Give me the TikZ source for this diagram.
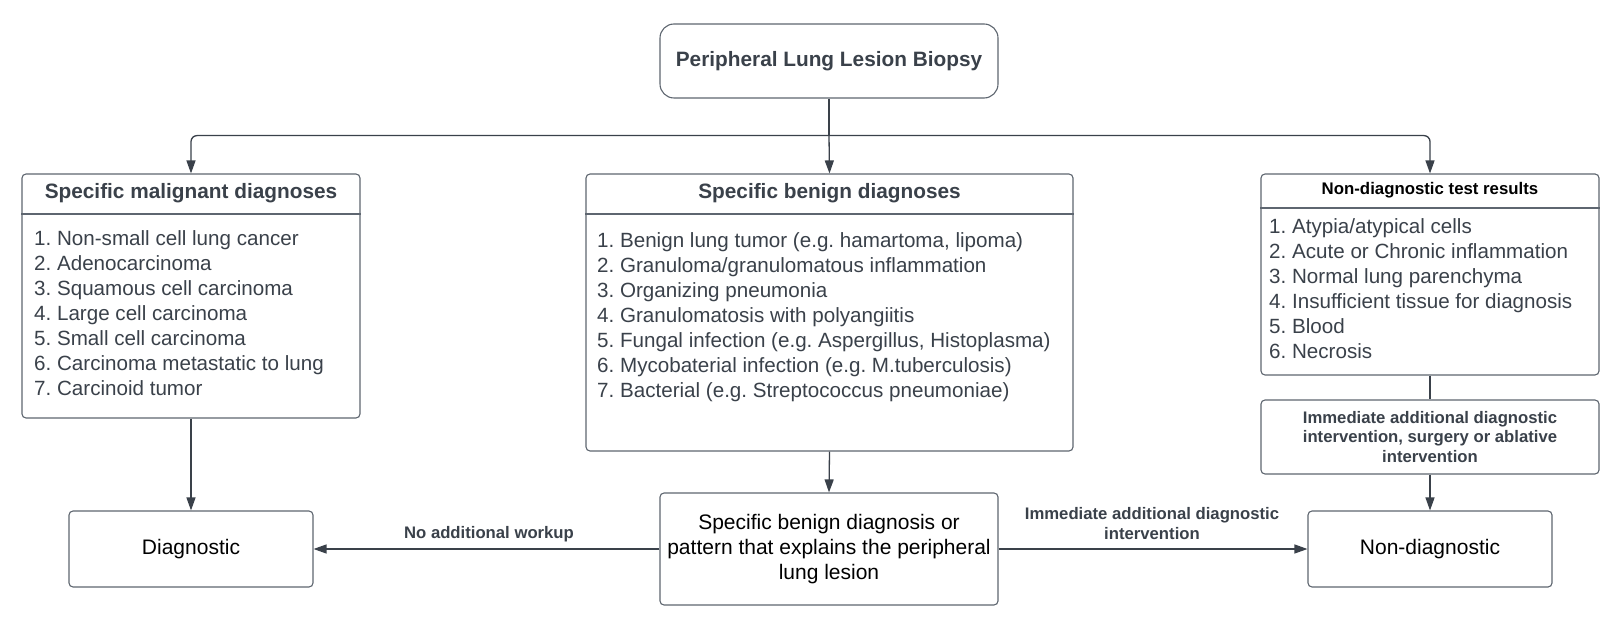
\documentclass[tikz,border=0pt]{standalone}
\usepackage{fontspec}
\setmainfont{Liberation Sans}
\usetikzlibrary{arrows.meta,calc}
\definecolor{txt}{HTML}{3A414A}
\definecolor{ln}{HTML}{5E6670}
\definecolor{arrc}{HTML}{3A414A}
\frenchspacing
\begin{document}
\begin{tikzpicture}[x=1pt,y=-1pt,
  box/.style={draw=ln, line width=1.1pt, rounded corners=4pt, inner sep=0pt, align=center},
  conn/.style={draw=arrc, line width=1.3pt},
  arr/.style={conn, -{Triangle[length=13pt,width=9pt]}},
  big/.style={font=\fontsize{21}{25}\selectfont},
  bigb/.style={font=\fontsize{20.8}{25}\selectfont\bfseries, text=txt},
  small/.style={font=\fontsize{16.7}{19.7}\selectfont\bfseries, text=txt},
  listtxt/.style={font=\fontsize{20.6}{24.9}\selectfont, text=txt, align=left, inner sep=0pt, anchor=west}
]
\useasboundingbox (0,0) rectangle (1623,620);
\fill[white] (0,0) rectangle (1623,620);

% boxes
\node[box, rounded corners=14pt, minimum width=338pt, minimum height=74pt, bigb] (top) at (829,61) {Peripheral Lung Lesion Biopsy};
\node[box, minimum width=338pt, minimum height=244pt] (mal) at (191,296) {};
\node[box, minimum width=487pt, minimum height=277pt] (ben) at (829.5,312.5) {};
\node[box, minimum width=338pt, minimum height=201pt] (nd) at (1430,274.5) {};
\node[box, minimum width=338pt, minimum height=74pt, small] (imm) at (1430,437) {Immediate additional diagnostic\\intervention, surgery or ablative\\intervention};
\node[box, minimum width=244pt, minimum height=76pt, big] (diag) at (191,549) {Diagnostic};
\node[box, minimum width=338pt, minimum height=112pt, big] (pat) at (829,549) {Specific benign diagnosis or\\pattern that explains the peripheral\\lung lesion};
\node[box, minimum width=244pt, minimum height=76pt, big] (nond) at (1430,549) {Non-diagnostic};

% header dividers
\draw[draw=ln, line width=1.1pt] (mal.west |- 0,214) -- (mal.east |- 0,214);
\draw[draw=ln, line width=1.1pt] (ben.west |- 0,214) -- (ben.east |- 0,214);
\draw[draw=ln, line width=1.1pt] (nd.west |- 0,208) -- (nd.east |- 0,208);

% headers
\node[bigb] (malh) at (191,193) {Specific malignant diagnoses};
\node[bigb] (benh) at (829.5,193) {Specific benign diagnoses};
\node[font=\fontsize{16.8}{19}\selectfont\bfseries, text=black] (ndh) at (1430,190) {Non-diagnostic test results};

% lists
\node[listtxt] (mall) at (34,313) {1. Non-small cell lung cancer\\2. Adenocarcinoma\\3. Squamous cell carcinoma\\4. Large cell carcinoma\\5. Small cell carcinoma\\6. Carcinoma metastatic to lung\\7. Carcinoid tumor};
\node[listtxt] (benl) at (597,317) {1. Benign lung tumor (e.g. hamartoma, lipoma)\\2. Granuloma/granulomatous inflammation\\3. Organizing pneumonia\\4. Granulomatosis with polyangiitis\\5. Fungal infection (e.g. Aspergillus, Histoplasma)\\6. Mycobaterial infection (e.g. M.tuberculosis)\\7. Bacterial (e.g. Streptococcus pneumoniae)};
\node[listtxt] (ndl) at (1269,288.5) {1. Atypia/atypical cells\\2. Acute or Chronic inflammation\\3. Normal lung parenchyma\\4. Insufficient tissue for diagnosis\\5. Blood\\6. Necrosis};

% connectors
\coordinate (j) at (829,135.6);
\draw[conn] (top.south) -- (j);
\draw[arr, rounded corners=6pt] (j) -| (mal.north);
\draw[arr] (j) -- (ben.north);
\draw[arr, rounded corners=6pt] (j) -| (nd.north);
\draw[arr] (mal.south) -- (diag.north);
\draw[arr] (ben.south) -- (pat.north);
\draw[conn] (nd.south) -- (imm.north);
\draw[arr] (imm.south) -- (nond.north);
\draw[arr] (pat.west) -- (diag.east);
\draw[arr] (pat.east) -- (nond.west);

% edge labels
\node[small] (l1) at (489,534) {No additional workup};
\node[small, align=center] (l2) at (1152,523.5) {Immediate additional diagnostic\\intervention};
\end{tikzpicture}
\end{document}
